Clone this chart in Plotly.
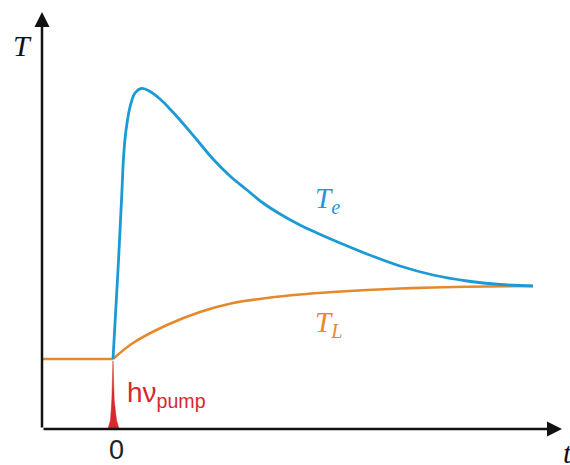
import plotly.graph_objects as go

# Electron temperature T_e after the pump pulse (time t, temperature T)
te_t = [-0.02, 0.03, 0.07, 0.082, 0.10, 0.125, 0.15, 0.20, 0.267, 0.35, 0.45, 0.55,
        0.65, 0.82, 0.98, 1.15, 1.32, 1.48, 1.65, 1.83, 2.02, 2.18, 2.52, 2.85,
        3.18, 3.52, 3.85, 4.18]
te_T = [0.70, 1.59, 2.39, 2.66, 2.90, 3.09, 3.22, 3.36, 3.407, 3.375, 3.30, 3.20,
        3.09, 2.89, 2.70, 2.53, 2.39, 2.26, 2.15, 2.05, 1.96, 1.89, 1.75, 1.63,
        1.54, 1.48, 1.445, 1.43]

# Lattice temperature T_L: flat before t = 0, then slow rise
tl_pre_t = [-0.73, -0.02]
tl_pre_T = [0.70, 0.70]
tl_t = [-0.02, 0.18, 0.52, 0.85, 1.18, 1.52, 1.85, 2.18, 2.52, 2.85, 3.18, 3.52, 4.18]
tl_T = [0.70, 0.86, 1.04, 1.17, 1.26, 1.31, 1.345, 1.37, 1.39, 1.405, 1.415, 1.422, 1.43]

# Pump pulse outline at t = 0
pump_t = [-0.02, -0.008, 0.015, 0.04, -0.07, -0.045, -0.032, -0.02]
pump_T = [0.68, 0.29, 0.09, 0.0, 0.0, 0.09, 0.29, 0.68]

BLUE = "#1b9ad6"
ORANGE = "#e5892c"
RED = "#d8282e"
AX = "#111111"

fig = go.Figure()
fig.add_trace(go.Scatter(x=pump_t, y=pump_T, mode="lines", fill="toself",
                         fillcolor=RED, line=dict(color=RED, width=0.5),
                         hoverinfo="skip"))
fig.add_trace(go.Scatter(x=tl_pre_t, y=tl_pre_T, mode="lines",
                         line=dict(color=ORANGE, width=2.6)))
fig.add_trace(go.Scatter(x=tl_t, y=tl_T, mode="lines",
                         line=dict(color=ORANGE, width=2.6, shape="spline", smoothing=1.0)))
fig.add_trace(go.Scatter(x=te_t, y=te_T, mode="lines",
                         line=dict(color=BLUE, width=2.8, shape="spline", smoothing=1.0)))

# Axes drawn as arrows
x0, x1 = -0.73, 4.47
y0, y1 = 0.0, 4.17
fig.add_annotation(x=x0, y=y1, ax=x0, ay=y0, xref="x", yref="y", axref="x", ayref="y",
                   showarrow=True, arrowhead=2, arrowsize=1.2, arrowwidth=2.5,
                   arrowcolor=AX, text="")
fig.add_annotation(x=x1, y=y0, ax=x0, ay=y0, xref="x", yref="y", axref="x", ayref="y",
                   showarrow=True, arrowhead=2, arrowsize=1.2, arrowwidth=2.5,
                   arrowcolor=AX, text="")

serif = "Liberation Serif, Times New Roman, serif"
sans = "Liberation Sans, Arial, sans-serif"

fig.add_annotation(x=-0.93, y=3.84, text="<i>T</i>", showarrow=False,
                   font=dict(family=serif, size=30, color=AX))
fig.add_annotation(x=4.455, y=-0.23, text="<i>t</i>", showarrow=False, xanchor="left",
                   font=dict(family=serif, size=30, color=AX))
fig.add_annotation(x=0.01, y=-0.21, text="0", showarrow=False,
                   font=dict(family=sans, size=27, color="#222222"))
fig.add_annotation(x=2.12, y=2.29, text="<i>T<sub>e</sub></i>", showarrow=False,
                   font=dict(family=serif, size=29, color=BLUE))
fig.add_annotation(x=2.13, y=1.05, text="<i>T<sub>L</sub></i>", showarrow=False,
                   font=dict(family=serif, size=29, color=ORANGE))
fig.add_annotation(x=0.10, y=0.35, text="hν<sub>pump</sub>", showarrow=False,
                   xanchor="left", yanchor="middle",
                   font=dict(family=sans, size=28, color=RED))

fig.update_layout(
    width=570, height=465, margin=dict(l=0, r=0, t=0, b=0),
    paper_bgcolor="white", plot_bgcolor="white", showlegend=False,
    xaxis=dict(range=[-1.15, 4.55], visible=False, fixedrange=True),
    yaxis=dict(range=[-0.36, 4.29], visible=False, fixedrange=True),
)

fig.write_html("out.html")
